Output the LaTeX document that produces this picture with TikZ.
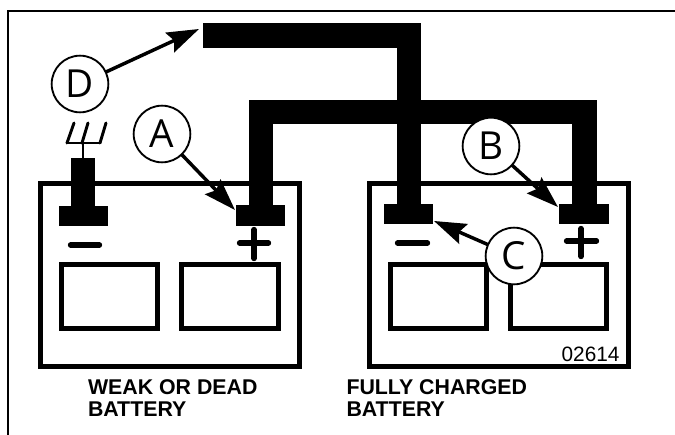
\documentclass[tikz,border=0pt]{standalone}
\usepackage{fontspec}
\setmainfont{Liberation Sans}
\newfontfamily\calloutfont{Open Sans}
\usetikzlibrary{arrows.meta}

\begin{document}
\begin{tikzpicture}[
    x=0.75pt, y=-0.75pt,
    every node/.style={inner sep=0pt, outer sep=0pt},
    frame/.style={line width=1.8pt, color=black},
    case/.style={draw=black, fill=white, line width=3.7pt},
    cell/.style={draw=black, line width=3.7pt},
    term/.style={rectangle, fill=black, minimum width=36.8pt, minimum height=15.6pt},
    post/.style={rectangle, fill=black, minimum width=18pt},
    bus/.style={line width=18.6pt, color=black, miter limit=10},
    sign/.style={line width=4pt, line cap=round, color=black},
    aerial/.style={line width=2.2pt, line cap=round, line join=round, color=black},
    callout/.style={circle, draw=black, fill=white, line width=1.4pt,
                    minimum size=42.5pt, font=\calloutfont\fontsize{29}{29}\selectfont},
    arr/.style={-{Stealth[length=24pt, width=16pt, inset=3.5pt]}, line width=2.6pt, color=black},
    lab/.style={font=\bfseries\fontsize{16}{16}\selectfont, align=left, anchor=north west},
    partno/.style={font=\fontsize{15.6}{15.6}\selectfont, anchor=base east},
]
\useasboundingbox (0,0) rectangle (675,435);

\draw[frame] (8,435) -- (8,11) -- (675,11);

% ================================================== the two cases
\draw[case] (40.3,183.5) rectangle (299.7,366.5);
\draw[case] (369.3,183.5) rectangle (628.7,366.5);
\foreach \xa/\xb in {61.3/157.7, 181.3/278.7, 390.3/486.7, 510.3/606.7}{
  \draw[cell] (\xa,264.3) rectangle (\xb,328.7);}

% ================================================== terminals
\node[term] (negweak) at (83.5,216) {};
\node[term] (posweak) at (260.5,215.5) {};
\node[term] (negfull) at (408.5,214) {};
\node[term] (posfull) at (584,214) {};
\node[post, minimum height=36pt] (postweak) at (83,182) {};

% the jumper cables
\coordinate (cableend) at (203,35.5);
\coordinate (cablecorner) at (409,35.5);
\coordinate (linkleft) at (261,112);
\coordinate (linkright) at (584.5,112);
\draw[bus] (cableend) -- (cablecorner) -- (cablecorner |- negfull.north);
\draw[bus] (linkleft |- posweak.north) -- (linkleft) -- (linkright) -- (linkright |- posfull.north);

% the ground
\draw[aerial] (postweak.north) -- (83,143);
\draw[aerial] (67,143) -- (100,143);
\draw[aerial] (67,143) -- (74,123);
\draw[aerial] (82,143) -- (88,123);
\draw[aerial] (100,143) -- (106,123);

% ================================================== plus and minus
\draw[sign] (70.5,245) -- (99.5,245);
\draw[sign] (239.5,243) -- (268.5,243);
\draw[sign] (254,229.5) -- (254,258.5);
\draw[sign] (397.5,243) -- (427.5,243);
\draw[sign] (566.5,241) -- (596.5,241);
\draw[sign] (581,228.5) -- (581,256.5);

% ================================================== callouts
\node[callout] (callD) at (80,84) {D};
\node[callout] (callA) at (162,134) {A};
\node[callout] (callB) at (491,146) {B};
\node[callout] (callC) at (514,256) {C};

\coordinate (tipD) at (199,29);
\coordinate (tipA) at (235,210);
\coordinate (tipB) at (558,207);
\coordinate (tipC) at (434,221);
\draw[arr] (callD) -- (tipD);
\draw[arr] (callA) -- (tipA);
\draw[arr] (callB) -- (tipB);
\draw[arr] (callC) -- (tipC);

% ================================================== captions
\node[lab] (capweak) at (88,380) {WEAK OR DEAD\\BATTERY};
\node[lab] (capfull) at (346.5,380) {FULLY CHARGED\\BATTERY};
\node[partno] (partlabel) at (619.5,361) {02614};

\end{tikzpicture}
\end{document}
